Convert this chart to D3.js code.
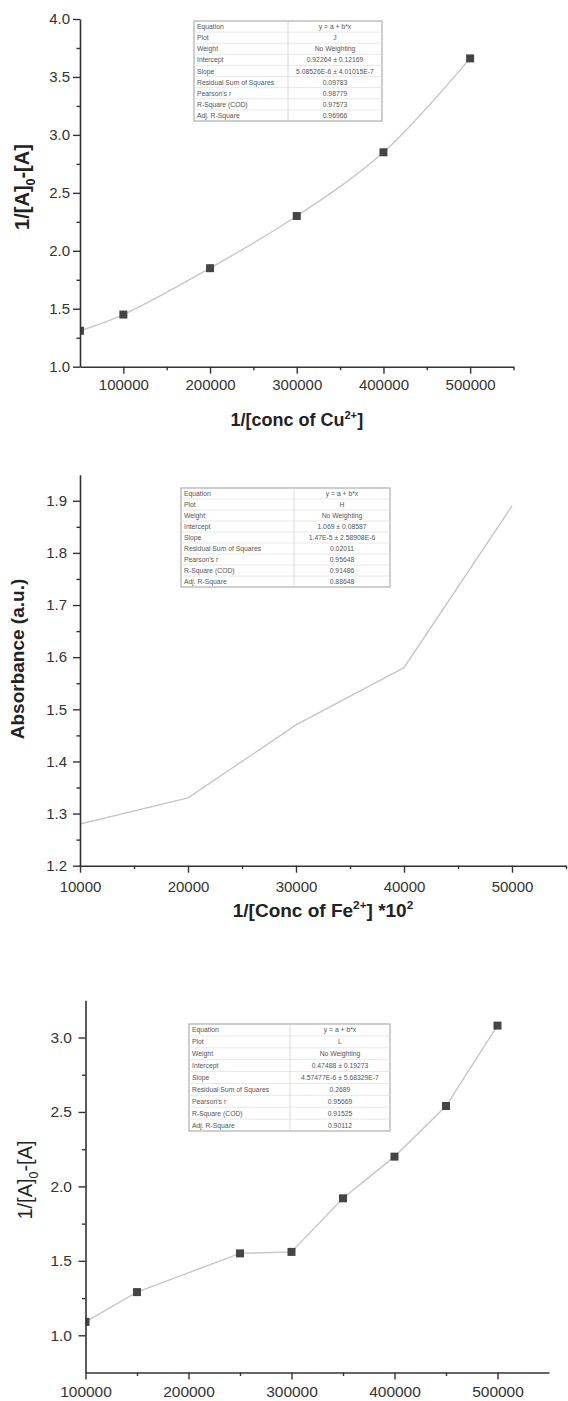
<!DOCTYPE html>
<html>
<head>
<meta charset="utf-8">
<script src="https://cdn.jsdelivr.net/npm/d3@7"></script>
<style>
  html, body { margin: 0; padding: 0; background: #fff; }
  svg { display: block; font-family: "Liberation Sans", Arial, sans-serif; }
</style>
</head>
<body>
<svg id="fig" width="568" height="1401"></svg>
<script>
// ---- Data: Cu2+ series (1/[A]0-[A] vs 1/[conc of Cu2+]) ----
const cuX = [50000, 100000, 200000, 300000, 400000, 500000];
const cuY = [1.31, 1.45, 1.85, 2.30, 2.85, 3.66];
const cuXTicks = [100000, 200000, 300000, 400000, 500000];
const cuXMinor = [150000, 250000, 350000, 450000, 550000];
const cuYTicks = [1.0, 1.5, 2.0, 2.5, 3.0, 3.5, 4.0];
const cuYMinor = [1.25, 1.75, 2.25, 2.75, 3.25, 3.75];

// ---- Data: Fe2+ series (absorbance vs 1/[Conc of Fe2+]*10^2) ----
const feX = [10000, 20000, 30000, 40000, 50000];
const feY = [1.28, 1.33, 1.47, 1.58, 1.89];
const feXTicks = [10000, 20000, 30000, 40000, 50000];
const feXMinor = [15000, 25000, 35000, 45000, 55000];
const feYTicks = [1.2, 1.3, 1.4, 1.5, 1.6, 1.7, 1.8, 1.9];
const feYMinor = [1.25, 1.35, 1.45, 1.55, 1.65, 1.75, 1.85];

// ---- Data: third series (1/[A]0-[A]) ----
const lX = [100000, 150000, 250000, 300000, 350000, 400000, 450000, 500000];
const lY = [1.09, 1.29, 1.55, 1.56, 1.92, 2.20, 2.54, 3.08];
const lXTicks = [100000, 200000, 300000, 400000, 500000];
const lXMinor = [150000, 250000, 350000, 450000];
const lYTicks = [1.0, 1.5, 2.0, 2.5, 3.0];
const lYMinor = [1.25, 1.75, 2.25, 2.75];

// ---- Linear fit report tables ----
const fitLabels = ["Equation", "Plot", "Weight", "Intercept", "Slope",
  "Residual Sum of Squares", "Pearson's r", "R-Square (COD)", "Adj. R-Square"];
const fitCu = ["y = a + b*x", "J", "No Weighting", "0.92264 \u00b1 0.12169",
  "5.08526E-6 \u00b1 4.01015E-7", "0.09783", "0.98779", "0.97573", "0.96966"];
const fitFe = ["y = a + b*x", "H", "No Weighting", "1.069 \u00b1 0.08587",
  "1.47E-5 \u00b1 2.58908E-6", "0.02011", "0.95648", "0.91486", "0.88648"];
const fitL = ["y = a + b*x", "L", "No Weighting", "0.47488 \u00b1 0.19273",
  "4.57477E-6 \u00b1 5.68329E-7", "0.2689", "0.95669", "0.91525", "0.90112"];

const svg = d3.select("#fig");
const AXIS = "#333";

// text with sub/superscript runs
function rich(text, parts, fs) {
  let shift = 0;
  parts.forEach(p => {
    const target = p.s === "sup" ? -0.4 * fs : p.s === "sub" ? 0.3 * fs : 0;
    text.append("tspan")
      .attr("dy", target - shift)
      .attr("font-size", p.s ? fs * 0.62 : fs)
      .text(p.t);
    shift = target;
  });
}

function drawTable(g, box, values) {
  const rh = (box.y1 - box.y0) / fitLabels.length;
  const t = g.append("g");
  t.append("rect").attr("x", box.x0).attr("y", box.y0)
    .attr("width", box.x1 - box.x0).attr("height", box.y1 - box.y0)
    .attr("fill", "#fff").attr("stroke", "#b4b4b4").attr("stroke-width", 1.3);
  for (let i = 1; i < fitLabels.length; i++) {
    t.append("line").attr("x1", box.x0).attr("x2", box.x1)
      .attr("y1", box.y0 + i * rh).attr("y2", box.y0 + i * rh)
      .attr("stroke", "#e2e2e2").attr("stroke-width", 0.8);
  }
  t.append("line").attr("x1", box.xd).attr("x2", box.xd)
    .attr("y1", box.y0).attr("y2", box.y1)
    .attr("stroke", "#d0d0d0").attr("stroke-width", 0.8);
  t.selectAll("text.lab").data(fitLabels).join("text")
    .attr("class", "lab")
    .attr("x", box.x0 + 3)
    .attr("y", (d, i) => box.y0 + (i + 0.5) * rh)
    .attr("dominant-baseline", "central")
    .attr("font-size", 6.8).attr("fill", "#555")
    .text(d => d);
  t.selectAll("text.val").data(values).join("text")
    .attr("class", "val")
    .attr("x", (box.xd + box.x1) / 2)
    .attr("y", (d, i) => box.y0 + (i + 0.5) * rh)
    .attr("dominant-baseline", "central")
    .attr("text-anchor", "middle")
    .attr("font-size", 6.8).attr("fill", "#555")
    .text(d => d);
}

function panel(cfg, idx) {
  const x = d3.scaleLinear().domain(cfg.xDom).range(cfg.xr);
  const y = d3.scaleLinear().domain(cfg.yDom).range(cfg.yr);
  const g = svg.append("g");

  const clipId = "clip" + idx;
  g.append("clipPath").attr("id", clipId).append("rect")
    .attr("x", cfg.xr[0]).attr("y", cfg.yr[1] - 10)
    .attr("width", cfg.xr[1] - cfg.xr[0] + 10)
    .attr("height", cfg.yr[0] - cfg.yr[1] + 10);

  // fit report
  drawTable(g, cfg.table, cfg.fit);

  const pts = cfg.xs.map((v, i) => [v, cfg.ys[i]]);
  const plot = g.append("g").attr("clip-path", `url(#${clipId})`);
  plot.append("path")
    .attr("d", d3.line().x(d => x(d[0])).y(d => y(d[1])).curve(cfg.curve)(pts))
    .attr("fill", "none").attr("stroke", "#c6c6c6").attr("stroke-width", 1.4);
  if (cfg.markers) {
    plot.selectAll("rect.m").data(pts).join("rect")
      .attr("class", "m")
      .attr("x", d => x(d[0]) - 4).attr("y", d => y(d[1]) - 4)
      .attr("width", 8).attr("height", 8)
      .attr("fill", "#454545");
  }

  const fmt = cfg.yFmt;
  // x axis
  const xa = g.append("g").attr("transform", `translate(0,${cfg.yr[0]})`)
    .call(d3.axisBottom(x).tickValues(cfg.xTicks).tickSize(7).tickSizeOuter(0)
      .tickPadding(cfg.xPad).tickFormat(d3.format("d")));
  xa.append("g").call(d3.axisBottom(x).tickValues(cfg.xMinor).tickSize(3.5)
    .tickFormat(""))
    .call(s => s.select(".domain").remove());
  // y axis
  const ya = g.append("g").attr("transform", `translate(${cfg.xr[0]},0)`)
    .call(d3.axisLeft(y).tickValues(cfg.yTicks).tickSize(7).tickSizeOuter(0)
      .tickPadding(cfg.yPad).tickFormat(fmt));
  ya.append("g").call(d3.axisLeft(y).tickValues(cfg.yMinor).tickSize(3.5)
    .tickFormat(""))
    .call(s => s.select(".domain").remove());

  [xa, ya].forEach(a => {
    a.selectAll(".domain").attr("stroke", AXIS).attr("stroke-width", 1.6);
    a.selectAll("line").attr("stroke", AXIS).attr("stroke-width", 1.4);
    a.selectAll("text").attr("fill", "#333").attr("font-size", cfg.fs)
      .attr("font-family", "'Liberation Sans', Arial, sans-serif");
  });

  // axis titles
  if (cfg.xTitle) {
    const t = g.append("text")
      .attr("x", (cfg.xr[0] + cfg.xr[1]) / 2).attr("y", cfg.xTitleY)
      .attr("text-anchor", "middle").attr("font-weight", "bold")
      .attr("fill", "#222");
    rich(t, cfg.xTitle, cfg.xTitleFs);
  }
  const yt = g.append("text")
    .attr("transform", `translate(${cfg.yTitleX},${cfg.yTitleY}) rotate(-90)`)
    .attr("text-anchor", "middle")
    .attr("font-weight", cfg.yTitleBold ? "bold" : "normal")
    .attr("fill", "#222");
  rich(yt, cfg.yTitle, cfg.yTitleFs);
}

const yConc = [{t: "1/[A]"}, {t: "0", s: "sub"}, {t: "-[A]"}];

const panels = [
  {
    xs: cuX, ys: cuY, xDom: [50000, 550000], yDom: [1, 4],
    xr: [80, 513.5], yr: [366.7, 19],
    xTicks: cuXTicks, xMinor: cuXMinor, yTicks: cuYTicks, yMinor: cuYMinor,
    yFmt: d3.format(".1f"), fs: 15, xPad: 5.4, yPad: 3,
    markers: true, curve: d3.curveCatmullRom.alpha(0.5),
    table: {x0: 194, x1: 382, xd: 288, y0: 21, y1: 121}, fit: fitCu,
    xTitle: [{t: "1/[conc of Cu"}, {t: "2+", s: "sup"}, {t: "]"}],
    xTitleY: 426, xTitleFs: 18,
    yTitle: yConc, yTitleX: 28.5, yTitleY: 187, yTitleFs: 20, yTitleBold: true
  },
  {
    xs: feX, ys: feY, xDom: [10000, 55000], yDom: [1.2, 1.95],
    xr: [80, 566], yr: [865.7, 474.7],
    xTicks: feXTicks, xMinor: feXMinor, yTicks: feYTicks, yMinor: feYMinor,
    yFmt: d3.format(".1f"), fs: 15, xPad: 8.6, yPad: 6,
    markers: false, curve: d3.curveLinear,
    table: {x0: 181, x1: 390, xd: 294, y0: 488, y1: 587}, fit: fitFe,
    xTitle: [{t: "1/[Conc of Fe"}, {t: "2+", s: "sup"}, {t: "] *10"}, {t: "2", s: "sup"}],
    xTitleY: 917, xTitleFs: 19,
    yTitle: [{t: "Absorbance (a.u.)"}], yTitleX: 24, yTitleY: 659, yTitleFs: 19,
    yTitleBold: true
  },
  {
    xs: lX, ys: lY, xDom: [100000, 550000], yDom: [0.75, 3.25],
    xr: [85.5, 549], yr: [1372.5, 1000.3],
    xTicks: lXTicks, xMinor: lXMinor, yTicks: lYTicks, yMinor: lYMinor,
    yFmt: d3.format(".1f"), fs: 15.5, xPad: 6, yPad: 6.5,
    markers: true, curve: d3.curveLinear,
    table: {x0: 189, x1: 390, xd: 290, y0: 1024, y1: 1131}, fit: fitL,
    xTitle: null,
    yTitle: yConc, yTitleX: 31.5, yTitleY: 1180, yTitleFs: 20, yTitleBold: false
  }
];

panels.forEach(panel);
</script>
</body>
</html>
